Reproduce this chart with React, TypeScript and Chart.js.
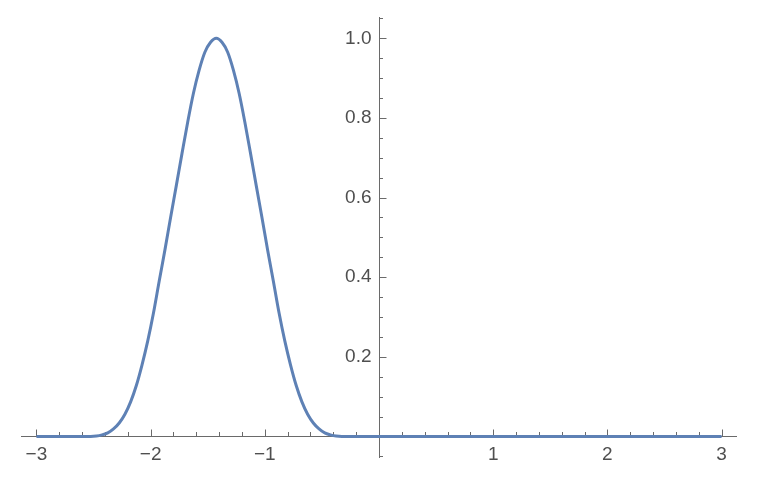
import { useEffect, useRef } from "react";
import { Chart, registerables } from "chart.js";

Chart.register(...registerables);

// Curve samples
const curveX = [
  -3, -2.7, -2.575, -2.525, -2.475, -2.425, -2.375, -2.325, -2.275, -2.225, -2.175, -2.125,
  -2.075, -2.025, -1.975, -1.925, -1.875, -1.825, -1.775, -1.725, -1.675, -1.625,
  -1.575, -1.525, -1.475, -1.425, -1.375, -1.325, -1.275, -1.225, -1.175, -1.125,
  -1.075, -1.025, -0.975, -0.925, -0.875, -0.825, -0.775, -0.725, -0.675, -0.625,
  -0.575, -0.525, -0.475, -0.425, -0.375, -0.325, -0.275, -0.15, 3,
];
const curveY = [
  0, 0, 0, 0, 0.001, 0.004, 0.009, 0.019, 0.034, 0.056, 0.087, 0.128,
  0.18, 0.24, 0.31, 0.39, 0.468, 0.55, 0.63, 0.711, 0.79, 0.862,
  0.92, 0.965, 0.99, 1.0, 0.99, 0.965, 0.92, 0.862, 0.79, 0.711,
  0.63, 0.55, 0.468, 0.39, 0.31, 0.24, 0.18, 0.128, 0.087, 0.056,
  0.034, 0.019, 0.009, 0.004, 0.001, 0, 0, 0, 0,
];

const xMajorTicks = [-3, -2, -1, 1, 2, 3];
const xTickLabels = ["\u22123", "\u22122", "\u22121", "1", "2", "3"];
const yMajorTicks = [0.2, 0.4, 0.6, 0.8, 1.0];
const yTickLabels = ["0.2", "0.4", "0.6", "0.8", "1.0"];
const xMinorStep = 0.2;
const yMinorStep = 0.05;
const xRange = [-3.135, 3.135];
const yRange = [-0.054, 1.0535];

const AXIS_COLOR = "#6a6a6a";
const LABEL_COLOR = "#4f4f4f";
const LINE_COLOR = "#5e81b5";
const FONT = '19px "Liberation Sans", Arial, sans-serif';

const axesPlugin = {
  id: "mmaAxes",
  beforeDatasetsDraw(chart: any) {
    const { ctx, chartArea, scales } = chart;
    const xs = scales.x;
    const ys = scales.y;
    const x0 = Math.round(xs.getPixelForValue(0)) + 0.5;
    const y0 = Math.round(ys.getPixelForValue(0)) + 0.5;
    ctx.save();
    ctx.strokeStyle = AXIS_COLOR;
    ctx.lineWidth = 1;
    ctx.beginPath();
    ctx.moveTo(chartArea.left, y0);
    ctx.lineTo(chartArea.right, y0);
    ctx.moveTo(x0, chartArea.top);
    ctx.lineTo(x0, chartArea.bottom);
    ctx.stroke();

    // x ticks
    ctx.beginPath();
    const xMin = Math.ceil(xRange[0] / xMinorStep);
    const xMax = Math.floor(xRange[1] / xMinorStep);
    for (let i = xMin; i <= xMax; i++) {
      const v = i * xMinorStep;
      if (Math.abs(v) < 1e-9) continue;
      const isMajor = xMajorTicks.some((m) => Math.abs(m - v) < 1e-6);
      const px = Math.round(xs.getPixelForValue(v)) + 0.5;
      const len = isMajor ? 7 : 4.5;
      ctx.moveTo(px, y0);
      ctx.lineTo(px, y0 - len);
    }
    // y ticks
    const yMin = Math.ceil(yRange[0] / yMinorStep - 1e-6);
    const yMax = Math.floor(yRange[1] / yMinorStep + 1e-6);
    for (let i = yMin; i <= yMax; i++) {
      const v = i * yMinorStep;
      if (Math.abs(v) < 1e-9) continue;
      const isMajor = yMajorTicks.some((m) => Math.abs(m - v) < 1e-6);
      const py = Math.round(ys.getPixelForValue(v)) + 0.5;
      const len = isMajor ? 7 : 3.5;
      ctx.moveTo(x0, py);
      ctx.lineTo(x0 + len, py);
    }
    ctx.stroke();

    // labels
    ctx.fillStyle = LABEL_COLOR;
    ctx.font = FONT;
    ctx.textAlign = "center";
    ctx.textBaseline = "middle";
    xMajorTicks.forEach((v, i) => {
      ctx.fillText(xTickLabels[i], xs.getPixelForValue(v), y0 + 18);
    });
    ctx.textAlign = "right";
    yMajorTicks.forEach((v, i) => {
      ctx.fillText(yTickLabels[i], x0 - 8, ys.getPixelForValue(v));
    });
    ctx.restore();
  },
};

export default function App() {
  const ref = useRef<HTMLCanvasElement | null>(null);
  useEffect(() => {
    if (!ref.current) return;
    const chart = new Chart(ref.current, {
      type: "line",
      data: {
        datasets: [
          {
            data: curveX.map((x, i) => ({ x, y: curveY[i] })),
            borderColor: LINE_COLOR,
            borderWidth: 3,
            pointRadius: 0,
            fill: false,
            cubicInterpolationMode: "monotone",
            clip: false as any,
          },
        ],
      },
      options: {
        animation: false,
        responsive: false,
        devicePixelRatio: 1,
        layout: { padding: { left: 21, right: 21, top: 17, bottom: 30 } },
        plugins: { legend: { display: false }, tooltip: { enabled: false } },
        scales: {
          x: { type: "linear", min: xRange[0], max: xRange[1], display: false },
          y: { type: "linear", min: yRange[0], max: yRange[1], display: false },
        },
      },
      plugins: [axesPlugin],
    });
    return () => chart.destroy();
  }, []);
  return (
    <div style={{ position: "absolute", left: 0, top: 0, width: 758, height: 488, background: "#fff" }}>
      <canvas ref={ref} width={758} height={488} />
    </div>
  );
}
